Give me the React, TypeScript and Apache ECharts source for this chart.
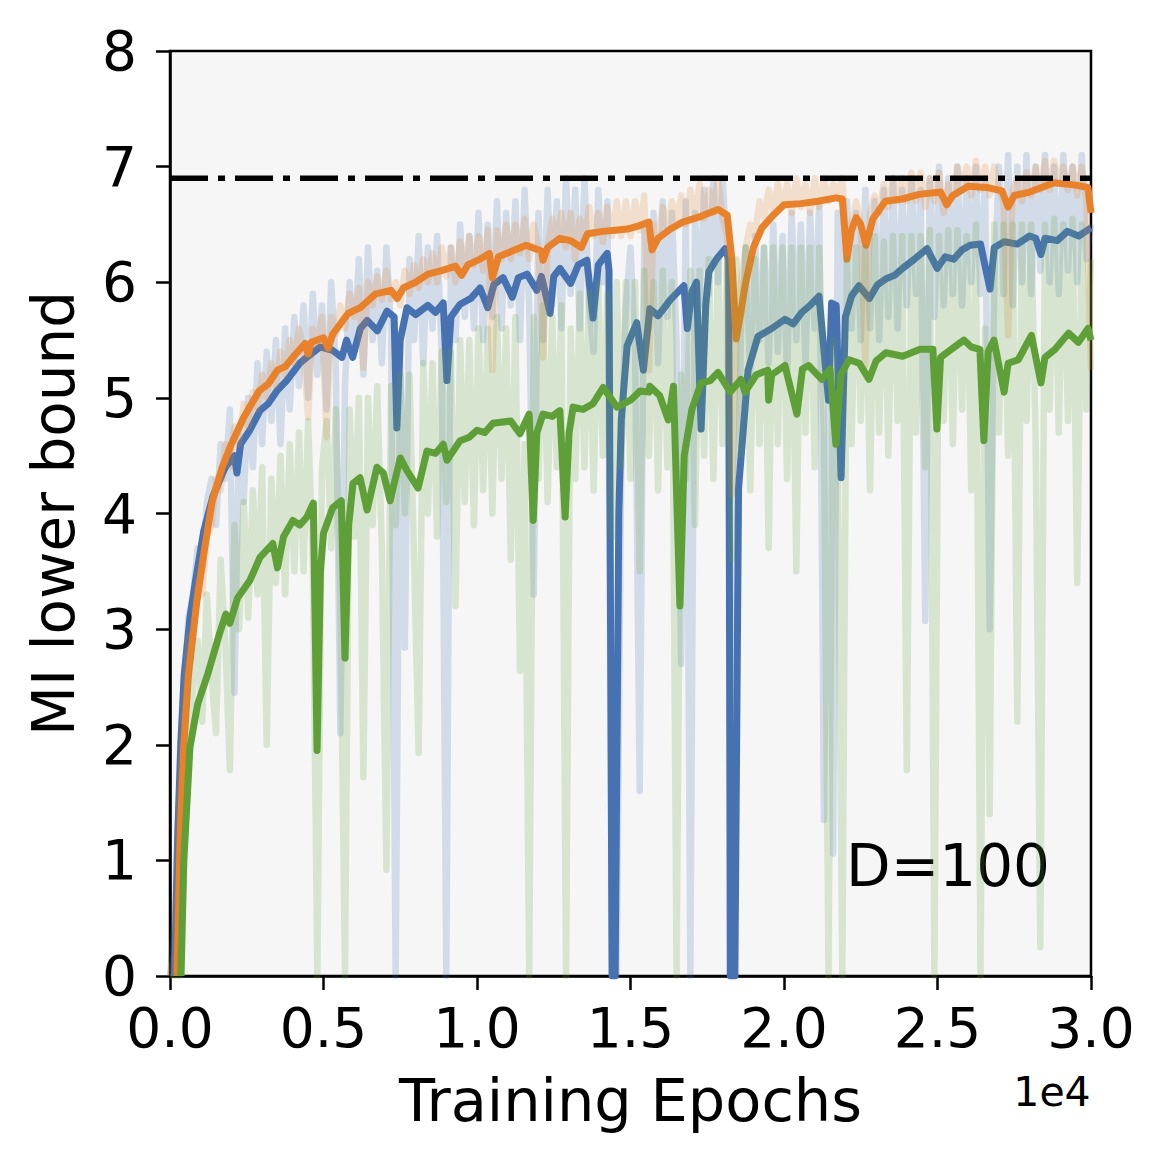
import React, { useEffect, useRef } from "react";
import * as echarts from "echarts";

// ---- data (epochs, MI lower bound) ----
const BOUND = 6.9; // log(1000)
const RAW_STEP = 150;

// raw (unsmoothed) traces, one value every RAW_STEP epochs, 0 .. 30000
const blueRaw = [
  0, 0.5, 1.6, 2.4, 3.1, 3.3, 3.7, 3.5, 4.1, 4.3,
  3.9, 4.6, 4.3, 4.9, 2.45, 4.7, 4.1, 5.0, 4.4, 5.3,
  4.6, 5.4, 4.8, 5.5, 4.6, 5.6, 4.9, 5.7, 5.1, 5.8,
  5.0, 5.9, 5.2, 5.8, 4.9, 6.0, 5.3, 2.1, 5.1, 6.0,
  5.4, 6.2, 5.2, 6.3, 5.5, 6.1, 5.3, 6.3, 5.6, 0.0,
  5.4, 2.84, 6.2, 5.5, 6.4, 5.3, 6.3, 5.6, 6.4, 5.4,
  0.0, 6.3, 5.5, 6.5, 5.7, 6.4, 5.6, 6.6, 5.5, 6.5,
  5.7, 6.7, 5.6, 6.6, 5.8, 6.7, 5.5, 6.8, 5.8, 3.3,
  6.6, 5.5, 6.8, 5.8, 6.7, 5.6, 6.9, 5.9, 6.8, 5.6,
  6.9, 5.8, 5.4, 6.8, 6.0, 6.7, 0.0, 0.0, 4.5, 5.8,
  6.3, 5.4, 1.6, 6.5, 5.6, 6.6, 5.3, 6.7, 5.7, 6.6,
  5.5, 2.7, 6.7, 0.0, 6.6, 5.8, 6.8, 5.9, 6.9, 6.0,
  6.9, 6.2, 0.0, 3.5, 5.6, 6.3, 5.2, 6.4, 5.5, 6.3,
  5.3, 6.5, 5.4, 6.4, 5.2, 6.6, 5.5, 6.5, 5.3, 6.6,
  5.6, 6.7, 1.35, 5.4, 1.06, 6.6, 5.5, 6.7, 5.6, 6.6,
  5.5, 6.8, 5.6, 6.7, 5.5, 6.8, 5.7, 6.9, 5.6, 6.8,
  5.8, 6.9, 5.9, 6.8, 3.07, 6.9, 5.7, 7.0, 5.8, 6.9,
  5.9, 7.0, 5.8, 6.9, 6.0, 7.0, 5.9, 6.9, 3.0, 6.0,
  7.0, 5.9, 7.1, 5.8, 7.0, 6.0, 7.1, 5.9, 7.0, 6.1,
  7.1, 6.0, 7.0, 5.9, 7.1, 6.1, 7.0, 6.0, 7.1, 6.2,
  6.5,
];

const orangeRaw = [
  0, 0.2, 1.5, 2.3, 2.9, 3.0, 3.4, 3.3, 3.8, 3.9,
  4.3, 4.2, 4.6, 4.4, 4.75, 4.6, 4.95, 4.75, 5.05, 4.9,
  5.2, 5.0, 5.3, 5.1, 5.4, 5.2, 5.5, 5.3, 5.6, 5.4,
  4.83, 5.6, 5.45, 5.7, 4.66, 5.7, 5.55, 5.8, 5.6, 5.9,
  5.7, 5.95, 5.26, 6.0, 5.8, 6.05, 5.85, 6.1, 5.85, 6.0,
  5.8, 6.1, 5.9, 6.15, 5.95, 6.2, 6.0, 6.25, 6.0, 6.3,
  6.05, 6.3, 6.0, 6.35, 6.1, 6.4, 6.15, 6.4, 6.1, 6.45,
  5.24, 6.45, 6.2, 6.5, 6.2, 6.5, 6.25, 6.55, 6.2, 6.5,
  6.3, 5.35, 6.3, 6.55, 6.35, 6.6, 6.3, 6.6, 6.2, 6.55,
  6.35, 6.65, 6.4, 6.6, 6.35, 6.65, 6.4, 6.7, 6.4, 6.7,
  6.4, 6.7, 6.45, 6.75, 5.24, 6.5, 6.4, 6.65, 6.45, 6.7,
  6.5, 6.75, 6.5, 6.8, 6.55, 6.85, 6.55, 6.8, 6.6, 6.9,
  6.55, 6.4, 4.17, 5.5, 6.0, 6.3, 6.5, 6.4, 6.7, 6.55,
  6.8, 6.6, 6.85, 6.65, 6.85, 6.6, 6.9, 6.65, 6.85, 6.6,
  6.9, 6.65, 6.9, 6.7, 6.85, 6.75, 6.9, 6.3, 6.5, 6.7,
  6.5, 5.28, 6.6, 6.75, 6.6, 6.85, 6.65, 6.9, 6.7, 6.9,
  6.7, 6.95, 6.7, 6.95, 6.65, 6.9, 6.7, 6.95, 6.6, 6.85,
  6.75, 7.0, 6.8, 7.0, 6.75, 7.05, 6.8, 7.0, 6.75, 7.0,
  6.8, 6.7, 5.54, 6.8, 6.9, 6.7, 6.95, 6.75, 7.0, 6.8,
  7.05, 6.8, 7.05, 6.85, 7.0, 6.8, 7.0, 6.75, 7.0, 6.7,
  5.24,
];

const greenRaw = [
  0, 0, 0.0, 0.9, 1.8, 2.5, 2.9, 2.2, 3.3, 2.6,
  2.1, 3.6, 2.9, 1.78, 3.9, 3.0, 4.1, 3.1, 4.2, 3.3,
  4.4, 2.0, 4.3, 3.4, 4.5, 3.3, 4.6, 3.5, 4.7, 3.5,
  4.8, 3.6, 0.0, 4.4, 4.8, 3.7, 4.9, 3.2, 0.0, 4.9,
  3.8, 5.0, 1.72, 5.0, 3.9, 5.1, 3.7, 0.92, 5.1, 3.9,
  5.2, 4.0, 5.2, 3.6, 1.93, 5.3, 4.0, 5.3, 3.8, 5.4,
  4.1, 5.4, 3.2, 5.5, 4.1, 5.5, 3.9, 5.6, 4.2, 5.6,
  4.0, 5.7, 4.3, 5.6, 3.6, 5.7, 2.64, 4.6, 0.0, 5.7,
  4.3, 5.8, 4.1, 5.7, 4.4, 5.8, 0.0, 5.6, 4.3, 5.9,
  4.4, 5.9, 4.2, 6.0, 4.5, 5.9, 3.8, 6.0, 4.4, 6.0,
  4.3, 6.0, 3.5, 6.1, 4.5, 6.0, 4.2, 6.1, 4.4, 6.0,
  0.0, 5.2, 4.3, 6.1, 3.9, 6.1, 4.5, 6.2, 4.3, 6.2,
  4.6, 6.2, 3.6, 6.2, 4.5, 6.3, 4.2, 6.2, 4.6, 6.3,
  3.7, 6.3, 4.6, 6.3, 4.3, 6.3, 3.5, 6.3, 4.7, 6.3,
  4.4, 6.3, 4.7, 0.0, 5.5, 4.6, 0.0, 6.2, 4.6, 6.3,
  4.8, 6.3, 4.2, 6.4, 4.7, 6.35, 4.5, 6.4, 4.8, 6.4,
  1.78, 6.4, 4.7, 6.4, 4.4, 6.45, 0.0, 6.4, 4.8, 6.45,
  4.6, 6.45, 4.9, 6.4, 4.2, 6.5, 0.0, 5.6, 1.4, 6.5,
  4.7, 6.5, 4.5, 6.5, 2.2, 6.5, 4.8, 6.5, 4.6, 0.25,
  6.5, 4.9, 6.55, 4.7, 6.5, 4.8, 6.55, 3.4, 6.5, 4.9,
  6.2,
];

// smoothed traces as [epoch, value]
const blueSmooth: [number, number][] = [
  [150, 0], [250, 1.2], [350, 2.0], [460, 2.6], [650, 3.1], [850, 3.45], [1100, 3.85],
  [1400, 4.15], [1800, 4.4], [2100, 4.5], [2180, 4.35], [2300, 4.6], [2600, 4.72], [2930, 4.89],
  [3200, 4.95], [3480, 5.06], [3800, 5.15], [4230, 5.3], [4500, 5.36], [4890, 5.44], [5300, 5.41],
  [5600, 5.35], [5750, 5.5], [5950, 5.35], [6200, 5.6], [6420, 5.67], [6750, 5.58], [7070, 5.75],
  [7300, 5.7], [7390, 4.74], [7500, 5.5], [7720, 5.78], [8000, 5.72], [8400, 5.8], [8650, 5.74],
  [8900, 5.82], [9020, 5.15], [9150, 5.7], [9450, 5.81], [9800, 5.86], [10100, 5.95],
  [10350, 5.78], [10550, 5.98], [10850, 6.04], [11150, 5.87], [11350, 6.04], [11630, 6.07],
  [11950, 5.93], [12100, 6.05], [12380, 5.73], [12500, 6.05], [12700, 6.12], [13050, 5.99],
  [13300, 6.15], [13580, 6.19], [13780, 5.69], [13950, 6.15], [14240, 6.25], [14300, 6.1],
  [14400, 0], [14500, 0], [14620, 4.0], [14700, 4.81], [14890, 5.45], [15200, 5.65],
  [15420, 5.24], [15630, 5.77], [15900, 5.71], [16300, 5.85], [16740, 5.97], [16850, 5.6],
  [17000, 5.92], [17150, 6.0], [17300, 4.73], [17450, 5.8], [17550, 6.09], [17800, 6.2],
  [18080, 6.29], [18200, 6.2], [18250, 0], [18400, 0], [18520, 4.22], [18830, 5.24],
  [19150, 5.53], [19600, 5.6], [20030, 5.68], [20300, 5.64], [20580, 5.74], [20850, 5.8],
  [21140, 5.88], [21450, 4.98], [21550, 5.82], [21700, 5.8], [21860, 4.31], [22000, 5.7],
  [22200, 5.88], [22440, 5.97], [22780, 5.86], [23050, 5.98], [23320, 6.03], [23600, 6.06],
  [23860, 6.12], [24250, 6.2], [24660, 6.29], [24990, 6.12], [25250, 6.22], [25530, 6.2],
  [25800, 6.28], [26060, 6.32], [26400, 6.33], [26710, 5.94], [26850, 6.3], [27170, 6.35],
  [27600, 6.33], [28000, 6.4], [28200, 6.38], [28370, 6.24], [28500, 6.38], [28900, 6.36],
  [29230, 6.44], [29600, 6.4], [30000, 6.47],
];

const orangeSmooth: [number, number][] = [
  [230, 0], [330, 1.2], [450, 2.0], [600, 2.6], [880, 3.25], [1100, 3.65], [1370, 4.1],
  [1700, 4.4], [2000, 4.6], [2400, 4.83], [2900, 5.06], [3200, 5.12], [3500, 5.24],
  [3750, 5.27], [4000, 5.35], [4400, 5.47], [4500, 5.38], [4600, 5.48], [5000, 5.52],
  [5150, 5.43], [5300, 5.55], [5800, 5.73], [6200, 5.78], [6450, 5.84], [6700, 5.9],
  [7200, 5.93], [7400, 5.86], [7600, 5.95], [8000, 6.0], [8400, 6.07], [8850, 6.1],
  [9300, 6.14], [9500, 6.06], [9700, 6.15], [10100, 6.2], [10400, 6.25], [10500, 6.04],
  [10700, 6.22], [11150, 6.27], [11600, 6.32], [12100, 6.27], [12150, 6.19], [12300, 6.3],
  [12700, 6.38], [13050, 6.36], [13400, 6.3], [13600, 6.42], [14100, 6.44], [14500, 6.45],
  [14900, 6.46], [15300, 6.49], [15600, 6.52], [15700, 6.28], [15900, 6.38], [16300, 6.46],
  [16700, 6.52], [17300, 6.57], [17850, 6.63], [18150, 6.58], [18300, 6.2], [18440, 5.51],
  [18600, 5.75], [18730, 5.97], [19000, 6.3], [19280, 6.47], [19650, 6.58], [20000, 6.67],
  [20550, 6.68], [21100, 6.7], [21700, 6.73], [21900, 6.72], [22050, 6.2], [22200, 6.45],
  [22350, 6.56], [22500, 6.5], [22670, 6.32], [22900, 6.55], [23300, 6.7], [23850, 6.72],
  [24400, 6.76], [25100, 6.78], [25300, 6.67], [25500, 6.75], [26000, 6.83], [26600, 6.82],
  [27100, 6.79], [27300, 6.65], [27500, 6.75], [28000, 6.78], [28800, 6.86], [29500, 6.84],
  [29900, 6.82], [30000, 6.6],
];

const greenSmooth: [number, number][] = [
  [360, 0], [450, 1.0], [650, 1.98], [900, 2.35], [1240, 2.62], [1600, 2.95], [1820, 3.13],
  [1950, 3.05], [2200, 3.27], [2600, 3.42], [2930, 3.62], [3350, 3.74], [3500, 3.53],
  [3700, 3.8], [4000, 3.94], [4230, 3.9], [4460, 3.97], [4670, 4.09], [4790, 1.95], [4900, 3.5],
  [5000, 3.83], [5300, 4.05], [5580, 4.11], [5700, 2.75], [5820, 3.9], [5960, 4.26],
  [6190, 4.31], [6420, 4.03], [6740, 4.4], [6950, 4.35], [7170, 4.11], [7500, 4.48], [7720, 4.37],
  [8080, 4.22], [8370, 4.54], [8650, 4.52], [8900, 4.6], [9020, 4.46], [9450, 4.63],
  [9750, 4.66], [10000, 4.72], [10250, 4.7], [10520, 4.78], [11100, 4.8], [11400, 4.69],
  [11700, 4.86], [11830, 3.94], [11950, 4.7], [12150, 4.86], [12450, 4.84], [12700, 4.89],
  [12870, 3.97], [13000, 4.7], [13130, 4.92], [13450, 4.9], [13780, 4.95], [14110, 5.09],
  [14560, 4.92], [15000, 4.98], [15310, 5.06], [15600, 5.05], [15630, 5.1], [15950, 5.02],
  [16230, 4.81], [16400, 5.1], [16610, 3.2], [16750, 4.5], [17000, 4.9], [17300, 5.13],
  [17600, 5.15], [17850, 5.22], [18250, 5.05], [18600, 5.16], [18730, 5.05], [19100, 5.2],
  [19470, 5.24], [19500, 4.98], [19600, 5.2], [20030, 5.28], [20420, 4.86], [20600, 5.25],
  [20800, 5.28], [21230, 5.16], [21500, 5.25], [21690, 4.6], [21850, 5.2], [22120, 5.33],
  [22450, 5.3], [22770, 5.16], [23000, 5.32], [23320, 5.39], [23870, 5.36], [24430, 5.42],
  [24850, 5.42], [24980, 4.73], [25100, 5.35], [25300, 5.39], [25600, 5.45], [25860, 5.5],
  [26100, 5.44], [26380, 5.42], [26510, 4.63], [26650, 5.4], [26840, 5.5], [27170, 5.05],
  [27300, 5.3], [27630, 5.33], [28060, 5.54], [28370, 5.13], [28500, 5.35], [28830, 5.42],
  [29270, 5.56], [29590, 5.48], [29900, 5.6], [30000, 5.5],
];

const xTickLabels = ["0.0", "0.5", "1.0", "1.5", "2.0", "2.5", "3.0"];

const BLUE = "#4672b2";
const ORANGE = "#e8812a";
const GREEN = "#5e9f38";
const FONT = "DejaVu Sans";

function rawPairs(vals: number[]): [number, number][] {
  return vals.map((v, i) => [i * RAW_STEP, v]);
}

function lineSeries(data: [number, number][], color: string, width: number, opacity: number) {
  return {
    type: "line",
    data,
    showSymbol: false,
    symbol: "none",
    silent: true,
    clip: true,
    lineStyle: { color, width, opacity, cap: "butt", join: "round" },
    emphasis: { disabled: true },
  };
}

export default function App() {
  const ref = useRef<HTMLDivElement>(null);
  useEffect(() => {
    if (!ref.current) return;
    const chart = echarts.init(ref.current, null, { renderer: "svg" });
    const axisCommon = {
      axisLine: { show: true, onZero: false, lineStyle: { color: "#000", width: 2.5 } },
      axisTick: { show: true, inside: false, length: 14, lineStyle: { color: "#000", width: 2.5 } },
      splitLine: { show: false },
    };
    chart.setOption({
      animation: false,
      grid: {
        left: 170, right: 77, top: 51, bottom: 189,
        show: true, backgroundColor: "#f6f6f6", borderColor: "#000", borderWidth: 2.5,
      },
      xAxis: {
        type: "value", min: 0, max: 30000, interval: 5000,
        ...axisCommon,
        axisLabel: {
          fontSize: 55, color: "#000", fontFamily: FONT, margin: 24,
          formatter: (v: number) => xTickLabels[Math.round(v / 5000)] ?? "",
        },
        name: "Training Epochs", nameLocation: "middle", nameGap: 95,
        nameTextStyle: { fontSize: 59, color: "#000", fontFamily: FONT },
      },
      yAxis: {
        type: "value", min: 0, max: 8, interval: 1,
        ...axisCommon,
        axisLabel: { fontSize: 55, color: "#000", fontFamily: FONT, margin: 33 },
        name: "MI lower bound", nameLocation: "middle", nameGap: 87,
        nameTextStyle: { fontSize: 58, color: "#000", fontFamily: FONT },
      },
      series: [
        lineSeries(rawPairs(blueRaw), BLUE, 6.5, 0.2),
        lineSeries(blueSmooth, BLUE, 7, 1),
        lineSeries(rawPairs(orangeRaw), ORANGE, 6.5, 0.2),
        lineSeries(orangeSmooth, ORANGE, 7, 1),
        lineSeries(rawPairs(greenRaw), GREEN, 6.5, 0.2),
        lineSeries(greenSmooth, GREEN, 7, 1),
        {
          type: "line",
          data: [[0, BOUND], [30000, BOUND]],
          showSymbol: false, symbol: "none", silent: true,
          lineStyle: { color: "#000", width: 5.5, type: [38, 10, 7, 10], cap: "butt" },
          emphasis: { disabled: true },
        },
      ],
      graphic: [
        {
          type: "text", x: 948, y: 866, silent: true,
          style: { text: "D=100", fontSize: 58, fontFamily: FONT, fill: "#000", align: "center", verticalAlign: "middle" },
        },
        {
          type: "text", x: 1052, y: 1092, silent: true,
          style: { text: "1e4", fontSize: 41, fontFamily: FONT, fill: "#000", align: "center", verticalAlign: "middle" },
        },
      ],
    });
    return () => chart.dispose();
  }, []);
  return (
    <div
      ref={ref}
      style={{ position: "absolute", left: 0, top: 0, width: 1168, height: 1165, background: "#fff" }}
    />
  );
}
